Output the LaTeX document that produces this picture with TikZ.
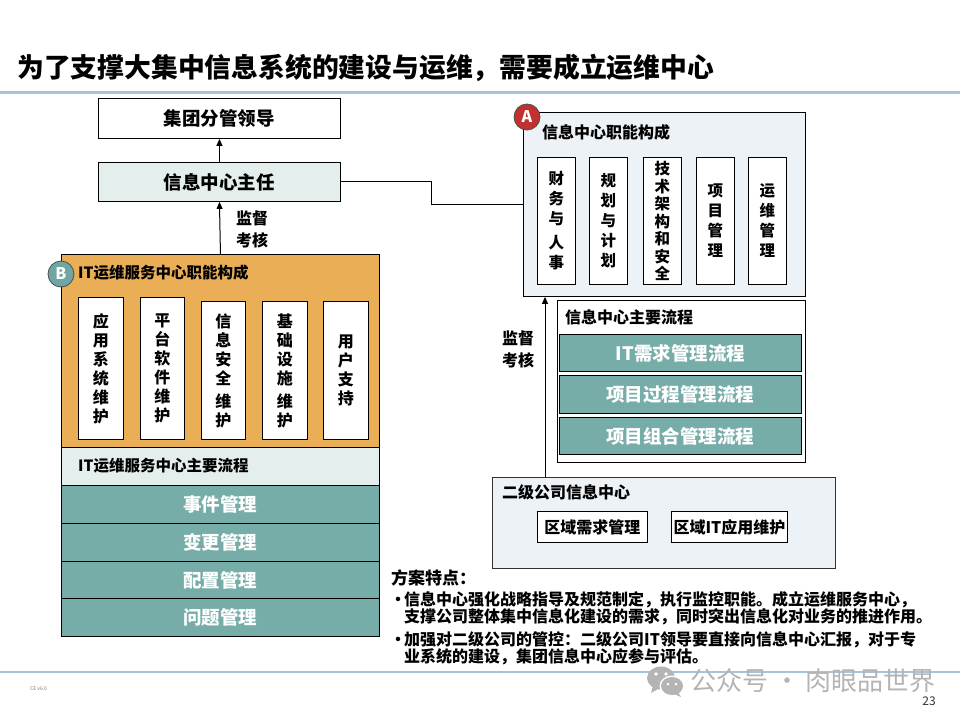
\documentclass[tikz,border=0pt]{standalone}
\usepackage{fontspec}
\setmainfont{Noto Sans CJK SC}
\usetikzlibrary{arrows.meta}
\definecolor{orng}{HTML}{E9AE56}
\definecolor{tealc}{HTML}{77ADA9}
\definecolor{lightg}{HTML}{E4EEEC}
\definecolor{paleb}{HTML}{EDF2F7}
\definecolor{rule}{HTML}{A7C3D9}
\definecolor{circB}{HTML}{6FA6A3}
\definecolor{circA}{HTML}{C0312F}
\definecolor{wm}{HTML}{B4B4B4}
\tikzset{
  bx/.style={draw=black, line width=0.9pt, inner sep=0pt, anchor=north west},
  big/.style={font=\bfseries\fontsize{18.5}{22}\selectfont},
  sec/.style={font=\bfseries\fontsize{15.5}{18}\selectfont, anchor=west, inner sep=0pt},
  vt/.style={font=\bfseries\fontsize{16}{19}\selectfont, align=center},
  vta/.style={font=\bfseries\fontsize{15.5}{20}\selectfont, align=center},
  proc/.style={bx, fill=tealc, text=white, big},
  arr/.style={line width=1pt, -{Triangle[width=6pt,length=7pt]}},
  con/.style={line width=1pt},
  badge/.style={circle, draw=black!70, line width=0.8pt, minimum size=26pt, inner sep=0pt, text=white, font=\bfseries\fontsize{16}{16}\selectfont},
  lbl/.style={font=\bfseries\fontsize{16}{22}\selectfont, align=left, anchor=west, inner sep=0pt},
  btxt/.style={font=\bfseries\fontsize{16}{17}\selectfont, anchor=west, inner sep=0pt}
}
\begin{document}
\begin{tikzpicture}[x=1pt,y=-1pt]
\useasboundingbox (0,0) rectangle (960,720);
% title and rules
\node[anchor=west, inner sep=0pt, font=\bfseries\fontsize{26.8}{30}\selectfont] (title) at (17,68) {为了支撑大集中信息系统的建设与运维，需要成立运维中心};
\draw[rule, line width=3pt] (0,92) -- (960,92);
\draw[rule, line width=2pt] (0,672) -- (960,672);

% left column
\node[bx, fill=white, big, minimum width=242pt, minimum height=40pt] (jt) at (98,98) {集团分管领导};
\node[bx, fill=lightg, big, minimum width=242pt, minimum height=39pt] (zr) at (98,162) {信息中心主任};
\draw[arr] (zr.north) -- (jt.south);

\node[bx, fill=orng, minimum width=318pt, minimum height=193pt] (Bbox) at (61,254) {};
\node[bx, fill=lightg, minimum width=318pt, minimum height=38pt] (Bband) at (61,447) {};
\node[sec] (Bbandt) at (78,466) {IT运维服务中心主要流程};
\node[proc, minimum width=318pt, minimum height=38pt] (r1) at (61,485) {事件管理};
\node[proc, minimum width=318pt, minimum height=38pt] (r2) at (61,523) {变更管理};
\node[proc, minimum width=318pt, minimum height=37pt] (r3) at (61,561) {配置管理};
\node[proc, minimum width=318pt, minimum height=38pt] (r4) at (61,598) {问题管理};
\node[badge, fill=circB] (Bc) at (61,274) {B};
\node[sec] (Bt) at (78,273) {IT运维服务中心职能构成};
\node[bx, fill=white, vt, minimum width=45pt, minimum height=142pt] (b1) at (78,297) {应\\用\\系\\统\\维\\护};
\node[bx, fill=white, vt, minimum width=44pt, minimum height=142pt] (b2) at (140,297) {平\\台\\软\\件\\维\\护};
\node[bx, fill=white, vt, minimum width=44pt, minimum height=138pt] (b3) at (201,301) {信\\息\\安\\全\\[4pt]维\\护};
\node[bx, fill=white, vt, minimum width=45pt, minimum height=138pt] (b4) at (262,301) {基\\础\\设\\施\\[4pt]维\\护};
\node[bx, fill=white, vt, minimum width=45pt, minimum height=138pt] (b5) at (323,301) {用\\户\\支\\持};

\draw[arr] (Bbox.north) -- (zr.south);
\node[lbl] (lab1) at (236,229) {监督\\考核};

% A panel
\node[bx, fill=paleb, minimum width=282pt, minimum height=184pt] (A) at (523,112) {};
\node[badge, fill=circA] (Ac) at (527,117) {A};
\node[sec, font=\bfseries\fontsize{16}{18}\selectfont] (At) at (542,132) {信息中心职能构成};
\node[bx, fill=white, vta, minimum width=38pt, minimum height=127pt] (a1) at (537,157) {财\\务\\与\\[4pt]人\\事};
\node[bx, fill=white, vta, minimum width=38pt, minimum height=127pt] (a2) at (589,157) {规\\划\\与\\计\\划};
\node[bx, fill=white, vta, font=\bfseries\fontsize{15.5}{17.5}\selectfont, minimum width=38pt, minimum height=127pt] (a3) at (643,157) {技\\术\\架\\构\\和\\安\\全};
\node[bx, fill=white, vta, minimum width=38pt, minimum height=127pt] (a4) at (696,157) {项\\目\\管\\理};
\node[bx, fill=white, vta, minimum width=38pt, minimum height=127pt] (a5) at (748,157) {运\\维\\管\\理};

\coordinate (kx) at (431,0);
\draw[con] (zr.east) -| (kx |- A.west) -- (A.west);

% flows
\node[bx, fill=white, minimum width=248pt, minimum height=162pt] (fl) at (557,300) {};
\node[sec, font=\bfseries\fontsize{16}{18}\selectfont] (flt) at (565,317) {信息中心主要流程};
\node[proc, minimum width=242pt, minimum height=37pt] (f1) at (559,334) {IT需求管理流程};
\node[proc, minimum width=242pt, minimum height=38pt] (f2) at (559,375) {项目过程管理流程};
\node[proc, minimum width=242pt, minimum height=37pt] (f3) at (559,417) {项目组合管理流程};

% second-level
\node[bx, draw=black!80, fill=paleb, minimum width=343pt, minimum height=91pt] (erji) at (492,477) {};
\node[sec, font=\bfseries\fontsize{16}{18}\selectfont] (erjit) at (502,492) {二级公司信息中心};
\node[bx, fill=white, font=\bfseries\fontsize{16}{18}\selectfont, minimum width=110pt, minimum height=31pt] (e1) at (537,511) {区域需求管理};
\node[bx, fill=white, font=\bfseries\fontsize{16}{18}\selectfont, minimum width=116pt, minimum height=31pt] (e2) at (671,511) {区域IT应用维护};

\coordinate (ax) at (545,0);
\draw[arr] (ax |- erji.north) -- (ax |- A.south);
\node[lbl] (lab2) at (502,349) {监督\\考核};

% features
\node[anchor=west, inner sep=0pt, font=\bfseries\fontsize{17}{20}\selectfont] (ft) at (391,578) {方案特点：};
\node[btxt] (d1) at (390,601) {•};
\node[btxt] (l1) at (404,600) {信息中心强化战略指导及规范制定，执行监控职能。成立运维服务中心，};
\node[btxt] (l2) at (404,617) {支撑公司整体集中信息化建设的需求，同时突出信息化对业务的推进作用。};
\node[btxt] (d2) at (390,641) {•};
\node[btxt] (l3) at (404,640) {加强对二级公司的管控：二级公司IT领导要直接向信息中心汇报，对于专};
\node[btxt] (l4) at (404,657) {业系统的建设，集团信息中心应参与评估。};

% footer
\node[anchor=west, inner sep=0pt, text=black!55, font=\fontsize{5}{6}\selectfont] (ce) at (30,689) {CE v6.0};
\node[anchor=east, inner sep=0pt, text=black!80, font=\fontsize{12}{14}\selectfont] (pg) at (936,701) {23};
% watermark icon
\fill[wm] (661,678) ellipse (14pt and 11.5pt);
\fill[wm] (653,686) -- (651,693) -- (660,688) -- cycle;
\fill[white] (672,686) ellipse (12.5pt and 10.5pt);
\fill[wm] (672,686) ellipse (11pt and 9pt);
\fill[wm] (678,692) -- (681,697) -- (674,694) -- cycle;
\fill[white] (656,674) circle (1.8pt) (666,674) circle (1.8pt);
\fill[white] (668,684) circle (1.5pt) (676,684) circle (1.5pt);
\node[anchor=west, inner sep=0pt, text=wm, font=\fontsize{26}{28}\selectfont] (wmt) at (690,681) {公众号 · 肉眼品世界};
\end{tikzpicture}
\end{document}
